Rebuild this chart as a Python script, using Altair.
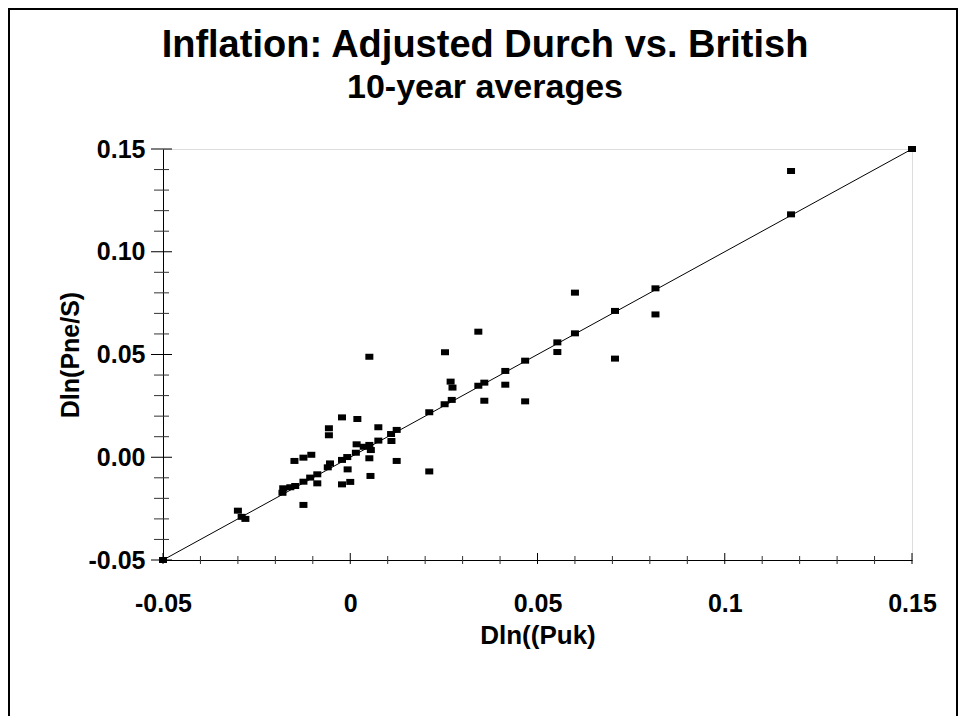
import altair as alt
import pandas as pd

# ---- data ----
x_vals = [-0.050, -0.030, -0.029, -0.028, -0.0181, -0.0179, -0.0160, -0.0147,
          -0.0149, -0.0125, -0.0104, -0.0125, -0.0125, -0.0107, -0.0088, -0.0088,
          -0.0057, -0.0057, -0.0054, -0.0060, -0.0022, 0.0019, -0.0022, -0.0008,
          -0.0007, -0.0022, 0.0000, 0.0017, 0.0015, 0.0036, 0.0051, 0.0055,
          0.0051, 0.0054, 0.0075, 0.0075, 0.0109, 0.0110, 0.0124, 0.0124,
          0.0211, 0.0211, 0.0252, 0.0271, 0.0268, 0.0273, 0.0342, 0.0253,
          0.0342, 0.0358, 0.0358, 0.0414, 0.0414, 0.0467, 0.0467, 0.0553,
          0.0553, 0.0600, 0.0600, 0.0707, 0.0707, 0.0815, 0.0815, 0.1177,
          0.1177, 0.1500, 0.0051]
y_vals = [-0.050, -0.026, -0.029, -0.030, -0.0173, -0.0151, -0.0146, -0.0140,
          -0.0018, -0.0002, 0.0012, -0.0119, -0.0232, -0.0099, -0.0083, -0.0127,
          0.0141, 0.0107, -0.0030, -0.0049, 0.0194, 0.0186, -0.0013, 0.0001,
          -0.0059, -0.0132, -0.0120, 0.0063, 0.0022, 0.0051, 0.0060, 0.0035,
          -0.0005, -0.0091, 0.0146, 0.0081, 0.0113, 0.0079, 0.0133, -0.0018,
          0.0219, -0.0069, 0.0258, 0.0279, 0.0368, 0.0339, 0.0348, 0.0511,
          0.0611, 0.0363, 0.0275, 0.0420, 0.0353, 0.0470, 0.0272, 0.0559,
          0.0512, 0.0801, 0.0603, 0.0712, 0.0480, 0.0822, 0.0695, 0.1393,
          0.1182, 0.1500, 0.0489]

line_x = [-0.05, 0.15]
line_y = [-0.05, 0.15]

x_major = [-0.05, 0.0, 0.05, 0.1, 0.15]
x_labels = ["-0.05", "0", "0.05", "0.1", "0.15"]
y_major = [-0.05, 0.0, 0.05, 0.1, 0.15]
y_labels = ["-0.05", "0.00", "0.05", "0.10", "0.15"]
minor_ticks = [-0.04, -0.03, -0.02, -0.01, 0.01, 0.02, 0.03, 0.04,
               0.06, 0.07, 0.08, 0.09, 0.11, 0.12, 0.13, 0.14]

title_text = "Inflation: Adjusted Durch vs. British"
subtitle_text = "10-year averages"
x_title = "Dln((Puk)"
y_title = "Dln(Pne/S)"

FONT = "Liberation Sans"
W, H = 749, 411
DOM = [-0.05, 0.15]

pts = pd.DataFrame({"x": x_vals, "y": y_vals})
diag = pd.DataFrame({"x": line_x, "y": line_y})
one = pd.DataFrame({"t": [title_text], "s": [subtitle_text]})

xs = alt.Scale(domain=DOM, nice=False, zero=False)
ys = alt.Scale(domain=DOM, nice=False, zero=False)


def lab_expr(vals, labs):
    expr = "''"
    for v, l in reversed(list(zip(vals, labs))):
        expr = f"(abs(datum.value - ({v})) < 1e-9 ? '{l}' : {expr})"
    return expr


x_axis = alt.Axis(values=x_major, labelExpr=lab_expr(x_major, x_labels), ticks=False,
                  grid=False, domainColor="black", domainWidth=1,
                  labelFont=FONT, labelFontSize=25, labelFontWeight="bold", labelColor="black",
                  labelPadding=31, labelFlush=False, labelOverlap=False,
                  title=x_title, titleFont=FONT, titleFontSize=26, titleFontWeight="bold",
                  titleColor="black", titleY=83, titleBaseline="alphabetic")
y_axis = alt.Axis(values=y_major, labelExpr=lab_expr(y_major, y_labels), ticks=False,
                  grid=False, domainColor="black", domainWidth=1,
                  labelFont=FONT, labelFontSize=25, labelFontWeight="bold", labelColor="black",
                  labelPadding=18, labelFlush=False, labelOverlap=False,
                  title=y_title, titleFont=FONT, titleFontSize=25, titleFontWeight="bold",
                  titleColor="black", titleX=-85, titleY=H / 2, titleBaseline="alphabetic",
                  titleAngle=270)

points = alt.Chart(pts).mark_point(
    shape="M-1,-0.75L1,-0.75L1,0.75L-1,0.75Z", filled=True, fill="black",
    strokeWidth=0, size=64, opacity=1
).encode(x=alt.X("x:Q", scale=xs, axis=x_axis), y=alt.Y("y:Q", scale=ys, axis=y_axis))

line = alt.Chart(diag).mark_line(color="black", strokeWidth=1).encode(
    x=alt.X("x:Q", scale=xs), y=alt.Y("y:Q", scale=ys))

ytick_major = alt.Chart(pd.DataFrame({"v": y_major})).mark_rule(color="black").encode(
    y=alt.Y("v:Q", scale=ys), x=alt.value(-12), x2=alt.value(9))
ytick_minor = alt.Chart(pd.DataFrame({"v": minor_ticks})).mark_rule(color="#333").encode(
    y=alt.Y("v:Q", scale=ys), x=alt.value(-9), x2=alt.value(6))
xtick_major = alt.Chart(pd.DataFrame({"v": x_major})).mark_rule(color="black").encode(
    x=alt.X("v:Q", scale=xs), y=alt.value(H - 7), y2=alt.value(H + 4))
xtick_minor = alt.Chart(pd.DataFrame({"v": minor_ticks})).mark_rule(color="#333").encode(
    x=alt.X("v:Q", scale=xs), y=alt.value(H - 4), y2=alt.value(H + 4))

title = alt.Chart(one).mark_text(font=FONT, fontSize=38, fontWeight="bold", color="black",
                                 align="center", baseline="alphabetic").encode(
    text="t:N", x=alt.value(322), y=alt.value(-92))
subtitle = alt.Chart(one).mark_text(font=FONT, fontSize=34, fontWeight="bold", color="black",
                                    align="center", baseline="alphabetic").encode(
    text="s:N", x=alt.value(322), y=alt.value(-51))

# outer figure frame (four rules)
fl = alt.Chart(one).mark_rule(color="black", strokeWidth=2).encode(
    x=alt.value(-154), y=alt.value(-140), y2=alt.value(620))
fr = alt.Chart(one).mark_rule(color="black", strokeWidth=2).encode(
    x=alt.value(794), y=alt.value(-140), y2=alt.value(620))
ft = alt.Chart(one).mark_rule(color="black", strokeWidth=2).encode(
    x=alt.value(-155), x2=alt.value(795), y=alt.value(-140))

chart = alt.layer(points, line, ytick_minor, ytick_major, xtick_minor, xtick_major,
                  title, subtitle, fl, fr, ft).properties(
    width=W, height=H,
    autosize=alt.AutoSizeParams(type="none"),
    padding={"left": 155, "top": 141, "right": 46, "bottom": 156},
).configure_view(stroke="#222", strokeWidth=1).configure(background="white")

chart.save("out.html", embed_options={"renderer": "svg", "actions": False})
